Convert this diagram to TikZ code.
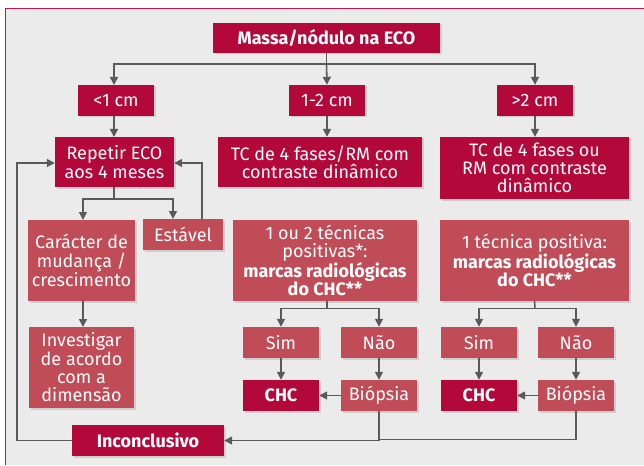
\documentclass[tikz,border=0pt]{standalone}
\usepackage{fontspec}
\setmainfont{Fira Sans}
\usetikzlibrary{arrows.meta,shadows}
\definecolor{dkred}{RGB}{178,8,58}
\definecolor{ltred}{RGB}{192,76,88}
\definecolor{bg}{RGB}{235,235,235}
\definecolor{frame}{RGB}{200,20,70}
\definecolor{ln}{RGB}{90,90,90}
\tikzset{
  base/.style={text=white, inner sep=1pt, align=center, font=\fontsize{18}{18.3}\selectfont,
    drop shadow={shadow xshift=1.5pt, shadow yshift=-1.5pt, fill=black, opacity=0.12}},
  dk/.style={base, fill=dkred},
  lt/.style={base, fill=ltred},
  arr/.style={draw=ln, line width=1.6pt, -{Triangle[length=8pt,width=8pt]}},
  ln/.style={draw=ln, line width=1.6pt},
}
\begin{document}
\begin{tikzpicture}[x=1pt,y=-1pt]
\useasboundingbox (0,0) rectangle (644,465);
\fill[white] (0,0) rectangle (644,465);
\fill[bg] (6,9) rectangle (644,465);
\draw[frame, line width=1.6pt] (5.5,465) -- (5.5,8.5) -- (644,8.5);

\node[dk, minimum width=227pt, minimum height=30pt] (top) at (326.5,38) {\bfseries Massa/nódulo na ECO};
\node[dk, minimum width=76pt, minimum height=31pt] (a) at (116,100.5) {<1 cm};
\node[dk, minimum width=76pt, minimum height=31pt] (b) at (327,100.5) {1-2 cm};
\node[dk, minimum width=76pt, minimum height=31pt] (c) at (535,100.5) {>2 cm};
\node[dk, minimum width=119pt, minimum height=50pt] (rep) at (114.5,162) {Repetir ECO\\aos 4 meses};
\node[dk, minimum width=204pt, minimum height=50pt] (tc1) at (320,162) {TC de 4 fases/RM com\\contraste dinâmico};
\node[dk, minimum width=189pt, minimum height=62pt] (tc2) at (534.5,168) {TC de 4 fases ou\\RM com contraste\\dinâmico};
\node[lt, minimum width=107pt, minimum height=81pt] (car) at (81.5,260.5) {Carácter de\\mudança /\\crescimento};
\node[lt, minimum width=80pt, minimum height=31pt] (est) at (183,234.5) {Estável};
\node[lt, minimum width=105pt, minimum height=81pt] (inv) at (81.5,367.5) {Investigar\\de acordo\\com a\\dimensão};
\node[lt, minimum width=184pt, minimum height=81pt] (pos1) at (325,260.5) {1 ou 2 técnicas\\positivas*:\\\bfseries marcas radiológicas\\\bfseries do CHC**};
\node[lt, minimum width=189pt, minimum height=81pt] (pos2) at (534.5,260.5) {1 técnica positiva:\\\bfseries marcas radiológicas\\\bfseries do CHC**};
\node[lt, minimum width=76pt, minimum height=31pt] (sim1) at (281,342.5) {Sim};
\node[lt, minimum width=76pt, minimum height=31pt] (nao1) at (379,342.5) {Não};
\node[lt, minimum width=76pt, minimum height=31pt] (sim2) at (479,342.5) {Sim};
\node[lt, minimum width=76pt, minimum height=31pt] (nao2) at (576,342.5) {Não};
\node[dk, minimum width=76pt, minimum height=31pt] (chc1) at (281,395.5) {\bfseries CHC};
\node[lt, minimum width=76pt, minimum height=31pt] (bio1) at (379,395.5) {Biópsia};
\node[dk, minimum width=76pt, minimum height=31pt] (chc2) at (479,395.5) {\bfseries CHC};
\node[lt, minimum width=76pt, minimum height=31pt] (bio2) at (576,395.5) {Biópsia};
\node[dk, minimum width=152pt, minimum height=31pt] (inc) at (148,440.5) {\bfseries Inconclusivo};

\coordinate (j0) at (326.5,64);
\draw[ln] (top.south) -- (j0);
\draw[arr] (j0) -| (114,85);
\draw[arr] (j0) -- (b.north);
\draw[arr] (j0) -| (c.north);
\draw[arr] (114,116) -- (114,137);
\draw[arr] (b.south) -- (b.south |- tc1.north);
\draw[arr] (c.south) -- (c.south |- tc2.north);
\coordinate (j1) at (114,199);
\draw[ln] (114,187) -- (j1);
\draw[arr] (j1) -| (83,220);
\draw[arr] (j1) -| (173,219);
\draw[arr] (202,219) |- (rep.east |- 0,163);
\draw[arr] (83,301) -- (83,327);
\draw[arr] (inc.west) -- (17,440.5) |- (rep.west |- 0,163);
\coordinate (j2) at (327,308.5);
\draw[ln] (327,301) -- (j2);
\draw[arr] (j2) -| (sim1.north);
\draw[arr] (j2) -| (nao1.north);
\coordinate (j3) at (535,308.5);
\draw[ln] (pos2.south) -- (j3);
\draw[arr] (j3) -| (sim2.north);
\draw[arr] (j3) -| (nao2.north);
\draw[arr] (sim1) -- (chc1);
\draw[arr] (nao1) -- (bio1);
\draw[arr] (sim2) -- (chc2);
\draw[arr] (nao2) -- (bio2);
\draw[arr] (bio1) -- (chc1);
\draw[arr] (bio2) -- (chc2);
\coordinate (j4) at (379,439.5);
\draw[ln] (bio2.south) |- (j4);
\draw[arr] (bio1.south) |- (inc.east);
\end{tikzpicture}
\end{document}
